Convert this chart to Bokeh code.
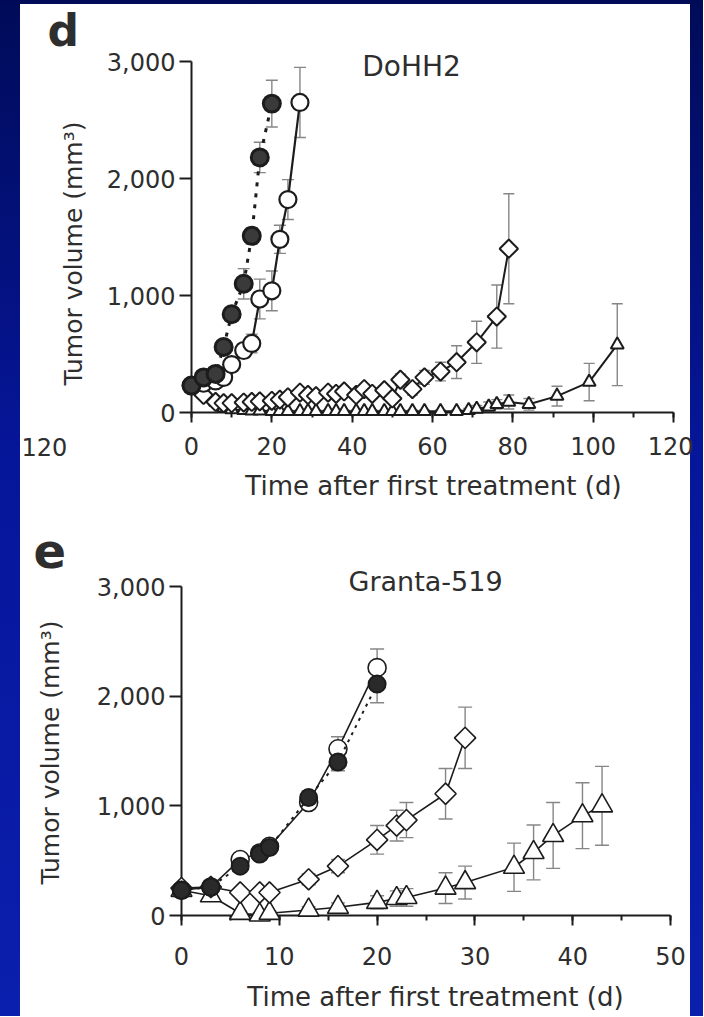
import numpy as np
from bokeh.plotting import figure
from bokeh.models import (ColumnDataSource, Range1d, SingleIntervalTicker,
                          NumeralTickFormatter, Whisker, TeeHead)
from bokeh.core.properties import value
from bokeh.layouts import column
from bokeh.embed import file_html
from bokeh.resources import INLINE

# ---------------- data: DoHH2 (panel d) ----------------
d_ctrl_day = [0, 3, 6, 8, 10, 13, 15, 17, 20]
d_ctrl_vol = [230, 300, 330, 560, 840, 1100, 1510, 2180, 2640]
d_ctrl_err = [20, 30, 30, 50, 60, 130, 70, 130, 200]

d_circ_day = [0, 3, 6, 8, 10, 13, 15, 17, 20, 22, 24, 27]
d_circ_vol = [230, 250, 270, 300, 410, 530, 590, 970, 1040, 1480, 1820, 2650]
d_circ_err = [20, 20, 30, 40, 50, 60, 80, 170, 170, 120, 170, 300]

d_diam_day = [0, 3, 6, 8, 10, 13, 15, 17, 20, 22, 24, 27, 29, 31, 34, 36, 38,
              41, 43, 45, 48, 50, 52, 55, 58, 62, 66, 71, 76, 79]
d_diam_vol = [230, 150, 90, 80, 80, 85, 90, 95, 100, 110, 130, 170, 150, 140,
              170, 160, 180, 150, 200, 160, 190, 120, 280, 200, 300, 350, 430,
              600, 820, 1400]
d_diam_err = [20, 20, 20, 20, 20, 20, 20, 20, 20, 25, 30, 30, 30, 30, 35, 35,
              35, 35, 40, 40, 40, 40, 50, 50, 60, 80, 140, 180, 270, 470]

d_tri_day = [0, 3, 6, 8, 10, 13, 15, 17, 20, 22, 24, 27, 29, 31, 34, 36, 38,
             41, 43, 45, 48, 50, 52, 55, 58, 62, 66, 69, 71, 74, 76, 79, 84,
             91, 99, 106]
d_tri_vol = [230, 160, 90, 40, 25, 20, 15, 15, 10, 10, 10, 10, 10, 10, 10, 10,
             10, 10, 10, 10, 10, 10, 10, 10, 10, 10, 10, 20, 30, 50, 70, 90,
             70, 140, 260, 580]
d_tri_err = [20, 20, 15, 10, 10, 10, 10, 10, 10, 10, 10, 10, 10, 10, 10, 10,
             10, 10, 10, 10, 10, 10, 10, 10, 10, 10, 10, 15, 30, 40, 40, 60,
             50, 85, 160, 350]

# ---------------- data: Granta-519 (panel e) ----------------
g_ctrl_day = [0, 3, 6, 8, 9, 13, 16, 20]
g_ctrl_vol = [230, 260, 450, 560, 620, 1075, 1400, 2110]
g_ctrl_err = [20, 30, 40, 40, 40, 60, 80, 170]

g_circ_day = [0, 3, 6, 8, 9, 13, 16, 20]
g_circ_vol = [230, 260, 510, 570, 630, 1030, 1520, 2260]
g_circ_err = [20, 30, 40, 40, 40, 50, 110, 170]

g_diam_day = [0, 3, 6, 8, 9, 13, 16, 20, 22, 23, 27, 29]
g_diam_vol = [250, 260, 210, 210, 210, 330, 450, 690, 820, 870, 1110, 1620]
g_diam_err = [20, 30, 30, 30, 30, 50, 60, 130, 140, 160, 230, 280]

g_tri_day = [0, 3, 6, 8, 9, 13, 16, 20, 22, 23, 27, 29, 34, 36, 38, 41, 43]
g_tri_vol = [230, 180, 20, 5, 20, 50, 75, 120, 155, 165, 250, 300, 440, 575,
             730, 910, 1000]
g_tri_err = [20, 20, 20, 20, 20, 30, 40, 60, 70, 80, 140, 150, 220, 250, 300,
             300, 360]

y_ticks_step = 1000
x_label = "Time after first treatment (d)"
y_label = "Tumor volume (mm\u00b3)"

FONT = "DejaVu Sans"
INK = "#1c1c1c"
TXT = "#2e2e2e"
ERR = "#868686"


def base_fig(w, h, xr, yr, borders, x_step, label_standoff, css_bg):
    left, right, top, bottom = borders
    p = figure(width=w, height=h, x_range=Range1d(*xr), y_range=Range1d(*yr),
               output_backend="svg", toolbar_location=None,
               min_border_left=left, min_border_right=right,
               min_border_top=top, min_border_bottom=bottom)
    p.grid.visible = False
    p.outline_line_color = None
    p.background_fill_color = "white"
    p.border_fill_color = None
    p.styles = {"background": css_bg}
    xa, ya = p.xaxis[0], p.yaxis[0]
    xa.ticker = SingleIntervalTicker(interval=x_step, num_minor_ticks=2)
    ya.ticker = SingleIntervalTicker(interval=y_ticks_step, num_minor_ticks=0)
    ya.formatter = NumeralTickFormatter(format="0,0")
    for ax in (xa, ya):
        ax.axis_line_width = 2
        ax.axis_line_color = INK
        ax.major_tick_line_width = 2
        ax.major_tick_line_color = INK
        ax.minor_tick_line_width = 2
        ax.minor_tick_line_color = INK
        ax.major_tick_in = 0
        ax.minor_tick_in = 0
        ax.major_label_text_font = FONT
        ax.major_label_text_font_size = "24px"
        ax.major_label_text_color = TXT
    xa.major_tick_out = 10
    xa.minor_tick_out = 5
    xa.major_label_standoff = label_standoff
    ya.major_tick_out = 12
    ya.minor_tick_out = 0
    ya.major_label_standoff = 4
    return p


def add_series(p, days, vols, errs, marker, size, fill, lw, dash, angle=0.0,
               head=12):
    lo = [v - e for v, e in zip(vols, errs)]
    hi = [v + e for v, e in zip(vols, errs)]
    src = ColumnDataSource(dict(x=days, y=vols, lo=lo, hi=hi))
    wk = Whisker(base="x", upper="hi", lower="lo", source=src,
                 line_color=ERR, line_width=1.4,
                 upper_head=TeeHead(size=head, line_color=ERR, line_width=1.4),
                 lower_head=TeeHead(size=head, line_color=ERR, line_width=1.4))
    wk.level = "underlay"
    p.add_layout(wk)
    ln = p.line("x", "y", source=src, line_color=INK, line_width=lw,
                line_dash=dash)
    ln.level = "overlay"
    sc = p.scatter("x", "y", source=src, marker=marker, size=size,
                   angle=angle, fill_color=fill, line_color=INK,
                   line_width=lw)
    sc.level = "overlay"


def txt(p, x, y, text, size, align="left", angle=0.0, bold=False):
    r = p.text(x=[x], y=[y], text=[text], text_font=value(FONT),
               text_font_size=size, text_align=align,
               text_baseline="alphabetic", angle=angle, text_color=TXT,
               text_font_style="bold" if bold else "normal")
    r.level = "overlay"


# ---------------- panel d ----------------
pd_ = base_fig(673, 501, (0, 120), (0, 3000), (171, 20, 57, 93), 20, 14,
               "linear-gradient(to right, #ffffff 670px, rgba(0,0,0,0) 670px)")
add_series(pd_, d_tri_day, d_tri_vol, d_tri_err, "triangle", 13, "white", 2.0,
           "solid", head=11)
add_series(pd_, d_diam_day, d_diam_vol, d_diam_err, "square", 13, "white", 2.0,
           "solid", angle=np.pi / 4, head=11)
add_series(pd_, d_circ_day, d_circ_vol, d_circ_err, "circle", 17, "white", 2.2,
           "solid", head=12)
add_series(pd_, d_ctrl_day, d_ctrl_vol, d_ctrl_err, "circle", 17, "#3a3a3a",
           3.0, "4 7", head=12)

txt(pd_, -35.85, 3265, "d", "44px", bold=True)
txt(pd_, 54.77, 2957, "DoHH2", "28px", align="center")
txt(pd_, 60.24, -632, x_label, "26px", align="center")
txt(pd_, -29.37, 1359, y_label, "25px", align="center", angle=np.pi / 2)
txt(pd_, -30.9, -291, "120", "24px", align="right")

# ---------------- panel e ----------------
pe_ = base_fig(680, 511, (0, 50), (0, 3000), (171, 20, 81, 101), 10, 21,
               "linear-gradient(to right, rgba(0,0,0,0) 10px, #ffffff 10px)")
add_series(pe_, g_tri_day, g_tri_vol, g_tri_err, "triangle", 21, "white", 1.6,
           "solid", head=14)
add_series(pe_, g_diam_day, g_diam_vol, g_diam_err, "square", 15, "white", 1.6,
           "solid", angle=np.pi / 4, head=14)
add_series(pe_, g_circ_day, g_circ_vol, g_circ_err, "circle", 18, "white", 1.6,
           "solid", head=14)
add_series(pe_, g_ctrl_day, g_ctrl_vol, g_ctrl_err, "circle", 17, "#2a2a2a",
           2.0, "3 5", head=14)

txt(pe_, -15.13, 3327, "e", "48px", bold=True)
txt(pe_, 24.95, 3045, "Granta-519", "27px", align="center")
txt(pe_, 25.97, -747, x_label, "26px", align="center")
txt(pe_, -13.39, 1486, y_label, "25px", align="center", angle=np.pi / 2)

pd_.margin = (4, 10, 0, 20)
pe_.margin = (0, 13, 0, 10)

layout = column(pd_, pe_, spacing=0, styles={
    "background": "linear-gradient(180deg, #000b58 0%, #06169a 45%, #0b1fae 100%)"
})

open("out.html", "w").write(file_html(layout, INLINE))
